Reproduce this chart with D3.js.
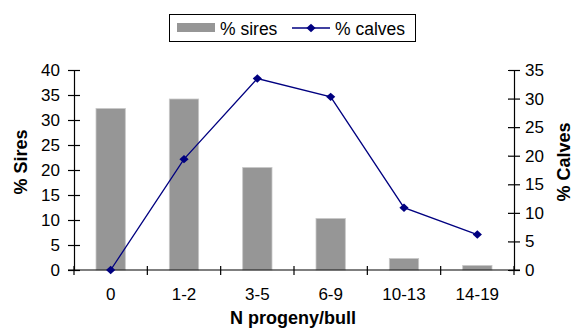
<!DOCTYPE html>
<html>
<head>
<meta charset="utf-8">
<script src="https://cdn.jsdelivr.net/npm/d3@7"></script>
<style>
  html, body { margin: 0; padding: 0; background: #fff; }
  svg { display: block; font-family: "Liberation Sans", Arial, sans-serif; }
</style>
</head>
<body>
<svg id="chart" width="574" height="328"></svg>
<script>
// Progeny-per-bull distribution
const categories = ["0", "1-2", "3-5", "6-9", "10-13", "14-19"];
const siresPct = [32.3, 34.2, 20.5, 10.3, 2.3, 0.9];
const calvesPct = [0, 19.4, 33.5, 30.3, 10.9, 6.2];
const leftTicks = [0, 5, 10, 15, 20, 25, 30, 35, 40];
const rightTicks = [0, 5, 10, 15, 20, 25, 30, 35];

const svg = d3.select("#chart");
const plot = { left: 74, right: 514, top: 70, bottom: 270 };
const tickFont = 17;
const titleFont = 18;

const x = d3.scaleBand().domain(categories).range([plot.left, plot.right]);
const yL = d3.scaleLinear().domain([0, 40]).range([plot.bottom, plot.top]);
const yR = d3.scaleLinear().domain([0, 35]).range([plot.bottom, plot.top]);

const barW = x.bandwidth() / 2.5;

// bars (% sires, left axis)
svg.append("g").selectAll("rect")
  .data(siresPct)
  .join("rect")
  .attr("x", (d, i) => x(categories[i]) + (x.bandwidth() - barW) / 2)
  .attr("y", d => yL(d))
  .attr("width", barW)
  .attr("height", d => yL(0) - yL(d))
  .attr("fill", "#969696")
  .attr("stroke", "#c8c8c8")
  .attr("stroke-width", 0.8);

// axes
function styleAxis(g) {
  g.select(".domain").attr("stroke", "#000").attr("stroke-width", 1.2);
  g.selectAll(".tick line").attr("stroke", "#000").attr("stroke-width", 1.2);
  g.selectAll(".tick text").attr("font-size", tickFont).attr("fill", "#000")
    .attr("font-family", "Liberation Sans, Arial, sans-serif");
}

const leftAxis = svg.append("g")
  .attr("transform", `translate(${plot.left},0)`)
  .call(d3.axisLeft(yL).tickValues(leftTicks).tickSize(6).tickSizeOuter(0).tickPadding(8));
leftAxis.selectAll(".tick line").attr("x1", 6);
styleAxis(leftAxis);

const rightAxis = svg.append("g")
  .attr("transform", `translate(${plot.right},0)`)
  .call(d3.axisRight(yR).tickValues(rightTicks).tickSize(6).tickSizeOuter(0).tickPadding(5));
rightAxis.selectAll(".tick line").attr("x1", -6);
styleAxis(rightAxis);

// x axis with ticks on band boundaries
const bottom = svg.append("g")
  .attr("transform", `translate(0,${plot.bottom})`)
  .call(d3.axisBottom(x).tickSize(0).tickSizeOuter(0).tickPadding(18));
bottom.select(".domain").attr("d", `M${plot.left - 6},0H${plot.right + 6}`);
styleAxis(bottom);
const bounds = categories.map(c => x(c)).concat([plot.right]);
bottom.selectAll("line.sep")
  .data(bounds)
  .join("line")
  .attr("class", "sep")
  .attr("x1", d => d).attr("x2", d => d)
  .attr("y1", -4).attr("y2", 5)
  .attr("stroke", "#000").attr("stroke-width", 1.2);

// line (% calves, right axis)
const line = d3.line()
  .x((d, i) => x(categories[i]) + x.bandwidth() / 2)
  .y(d => yR(d));
svg.append("path")
  .datum(calvesPct)
  .attr("d", line)
  .attr("fill", "none")
  .attr("stroke", "#000080")
  .attr("stroke-width", 1.3);

const diamond = "M0,-4.2L4.6,0L0,4.2L-4.6,0Z";
svg.append("g").selectAll("path")
  .data(calvesPct)
  .join("path")
  .attr("d", diamond)
  .attr("transform", (d, i) => `translate(${x(categories[i]) + x.bandwidth() / 2},${yR(d)})`)
  .attr("fill", "#000080");

// axis titles
svg.append("text")
  .attr("transform", "translate(27,162) rotate(-90)")
  .attr("text-anchor", "middle")
  .attr("font-size", titleFont).attr("font-weight", "bold")
  .text("% Sires");
svg.append("text")
  .attr("transform", "translate(570,162) rotate(-90)")
  .attr("text-anchor", "middle")
  .attr("font-size", titleFont).attr("font-weight", "bold")
  .text("% Calves");
svg.append("text")
  .attr("x", 293)
  .attr("y", 324)
  .attr("text-anchor", "middle")
  .attr("font-size", titleFont).attr("font-weight", "bold")
  .text("N progeny/bull");

// legend
const lg = svg.append("g");
lg.append("rect")
  .attr("x", 169.5).attr("y", 14.5).attr("width", 246).attr("height", 27)
  .attr("fill", "#fff").attr("stroke", "#000").attr("stroke-width", 1);
lg.append("rect")
  .attr("x", 177).attr("y", 23).attr("width", 38).attr("height", 9)
  .attr("fill", "#969696");
lg.append("text").attr("x", 220).attr("y", 34.5).attr("font-size", 17.5).text("% sires");
lg.append("line")
  .attr("x1", 292).attr("x2", 330).attr("y1", 28).attr("y2", 28)
  .attr("stroke", "#000080").attr("stroke-width", 1.3);
lg.append("path").attr("d", diamond)
  .attr("transform", "translate(311,28)")
  .attr("fill", "#000080");
lg.append("text").attr("x", 335).attr("y", 34.5).attr("font-size", 17.5).text("% calves");
</script>
</body>
</html>
